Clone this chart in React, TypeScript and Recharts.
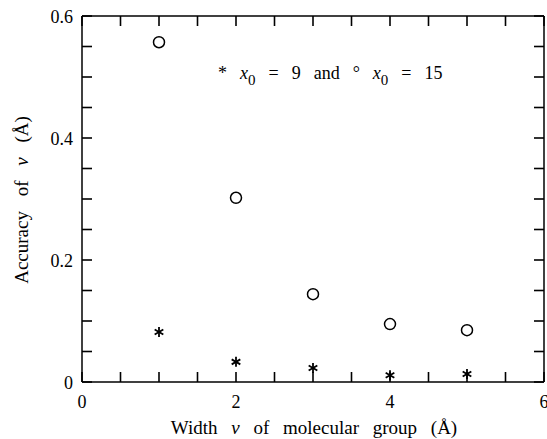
import React from "react";
import { ScatterChart, Scatter, XAxis, YAxis, Customized } from "recharts";

// widths (Å) and accuracies
const widths = [1, 2, 3, 4, 5];
const accuracyX0_9 = [0.082, 0.033, 0.023, 0.011, 0.013];
const accuracyX0_15 = [0.557, 0.302, 0.144, 0.095, 0.085];

const xTicks = [0, 0.5, 1, 1.5, 2, 2.5, 3, 3.5, 4, 4.5, 5, 5.5, 6];
const xLabelled = [0, 2, 4, 6];
const yTicks = [0, 0.05, 0.1, 0.15, 0.2, 0.25, 0.3, 0.35, 0.4, 0.45, 0.5, 0.55, 0.6];
const yLabelled = ["0", "0.2", "0.4", "0.6"];

const stars = widths.map((w, i) => ({ w, acc: accuracyX0_9[i] }));
const circles = widths.map((w, i) => ({ w, acc: accuracyX0_15[i] }));

const FONT = "'Liberation Serif', 'DejaVu Serif', serif";
const W = 547;
const H = 439;
const M = { top: 15, right: 2, bottom: 56, left: 0 };
const Y_AXIS_W = 82;
// plot box, used for the mirrored ticks on the top and right edges
const BOX = {
  left: M.left + Y_AXIS_W,
  right: W - M.right - 1,
  top: M.top + 1,
  bottom: H - M.bottom - 1,
};
const TICK = 10;

const yText = (v: number) => yLabelled.find((s) => Math.abs(parseFloat(s) - v) < 1e-6);

function BottomTick({ x, y, payload }: any) {
  const v = payload.value;
  return (
    <g>
      <line x1={x} x2={x} y1={y} y2={y - TICK} stroke="#000" strokeWidth={1.6} />
      {xLabelled.includes(v) && (
        <text x={x} y={y + 26} textAnchor="middle" fontFamily={FONT} fontSize={18} fill="#000">
          {v}
        </text>
      )}
    </g>
  );
}

function LeftTick({ x, y, payload }: any) {
  const label = yText(payload.value);
  return (
    <g>
      <line x1={x} x2={x + TICK} y1={y} y2={y} stroke="#000" strokeWidth={1.6} />
      {label && (
        <text x={x - 9} y={y + 7} textAnchor="end" fontFamily={FONT} fontSize={18} fill="#000">
          {label}
        </text>
      )}
    </g>
  );
}

function Circle({ cx, cy }: any) {
  return <circle cx={cx} cy={cy} r={5.5} fill="#fff" stroke="#000" strokeWidth={1.5} />;
}

function Asterisk({ cx, cy }: any) {
  const r = 5;
  const arms = [90, 30, -30].map((deg) => {
    const a = (deg * Math.PI) / 180;
    return (
      <line
        key={deg}
        x1={cx - r * Math.cos(a)}
        y1={cy - r * Math.sin(a)}
        x2={cx + r * Math.cos(a)}
        y2={cy + r * Math.sin(a)}
        stroke="#000"
        strokeWidth={1.8}
      />
    );
  });
  return <g>{arms}</g>;
}

function Overlay() {
  const xMax = xTicks[xTicks.length - 1];
  const yMax = yTicks[yTicks.length - 1];
  const px = (t: number) => BOX.left + (t / xMax) * (BOX.right - BOX.left);
  const py = (t: number) => BOX.bottom - (t / yMax) * (BOX.bottom - BOX.top);
  return (
    <g>
      {xTicks.map((t) => (
        <path
          key={`x${t}`}
          d={`M${px(t)},${BOX.top} L${px(t)},${BOX.top + TICK}`}
          stroke="#000"
          strokeWidth={1.6}
          fill="none"
        />
      ))}
      {yTicks.map((t) => (
        <path
          key={`y${t}`}
          d={`M${BOX.right},${py(t)} L${BOX.right - TICK},${py(t)}`}
          stroke="#000"
          strokeWidth={1.6}
          fill="none"
        />
      ))}
      <g fontFamily={FONT} fill="#000" style={{ whiteSpace: "pre" }}>
        <text x={218} y={79} fontSize={18} xmlSpace="preserve" wordSpacing={2}>
          <tspan>{"*  "}</tspan>
          <tspan fontStyle="italic">x</tspan>
          <tspan fontSize={15} dy={6}>0</tspan>
          <tspan dy={-6}>{"  =  9  and  °  "}</tspan>
          <tspan fontStyle="italic">x</tspan>
          <tspan fontSize={15} dy={6}>0</tspan>
          <tspan dy={-6}>{"  =  15"}</tspan>
        </text>
        <text x={314} y={434} fontSize={19} textAnchor="middle" wordSpacing={9}>
          <tspan>{"Width "}</tspan>
          <tspan fontStyle="italic">ν</tspan>
          <tspan>{" of molecular group (Å)"}</tspan>
        </text>
        <text
          x={0}
          y={0}
          fontSize={19}
          textAnchor="middle"
          wordSpacing={10}
          transform="translate(28 200) rotate(-90)"
        >
          <tspan>{"Accuracy of "}</tspan>
          <tspan fontStyle="italic">ν</tspan>
          <tspan>{" (Å)"}</tspan>
        </text>
      </g>
    </g>
  );
}

export default function App() {
  const axisLine = { stroke: "#000", strokeWidth: 1.5 };
  return (
    <div style={{ position: "absolute", left: 0, top: 0, background: "#fff" }}>
      <ScatterChart width={W} height={H} margin={M}>
        <XAxis
          xAxisId="bottom"
          type="number"
          dataKey="w"
          domain={[0, 6]}
          allowDataOverflow
          ticks={xTicks}
          interval={0}
          height={1}
          tickSize={0}
          tickMargin={0}
          tickLine={false}
          axisLine={axisLine}
          tick={<BottomTick />}
        />
        <XAxis
          xAxisId="top"
          orientation="top"
          type="number"
          domain={[0, 6]}
          height={1}
          tick={false}
          tickLine={false}
          axisLine={axisLine}
        />
        <YAxis
          yAxisId="left"
          type="number"
          dataKey="acc"
          domain={[0, 0.6]}
          allowDataOverflow
          ticks={yTicks}
          interval={0}
          width={Y_AXIS_W}
          tickSize={0}
          tickMargin={0}
          tickLine={false}
          axisLine={axisLine}
          tick={<LeftTick />}
        />
        <YAxis
          yAxisId="right"
          orientation="right"
          type="number"
          domain={[0, 0.6]}
          width={1}
          tick={false}
          tickLine={false}
          axisLine={axisLine}
        />
        <Scatter
          data={circles}
          xAxisId="bottom"
          yAxisId="left"
          shape={<Circle />}
          isAnimationActive={false}
        />
        <Scatter
          data={stars}
          xAxisId="bottom"
          yAxisId="left"
          shape={<Asterisk />}
          isAnimationActive={false}
        />
        <Customized component={<Overlay />} />
      </ScatterChart>
    </div>
  );
}
